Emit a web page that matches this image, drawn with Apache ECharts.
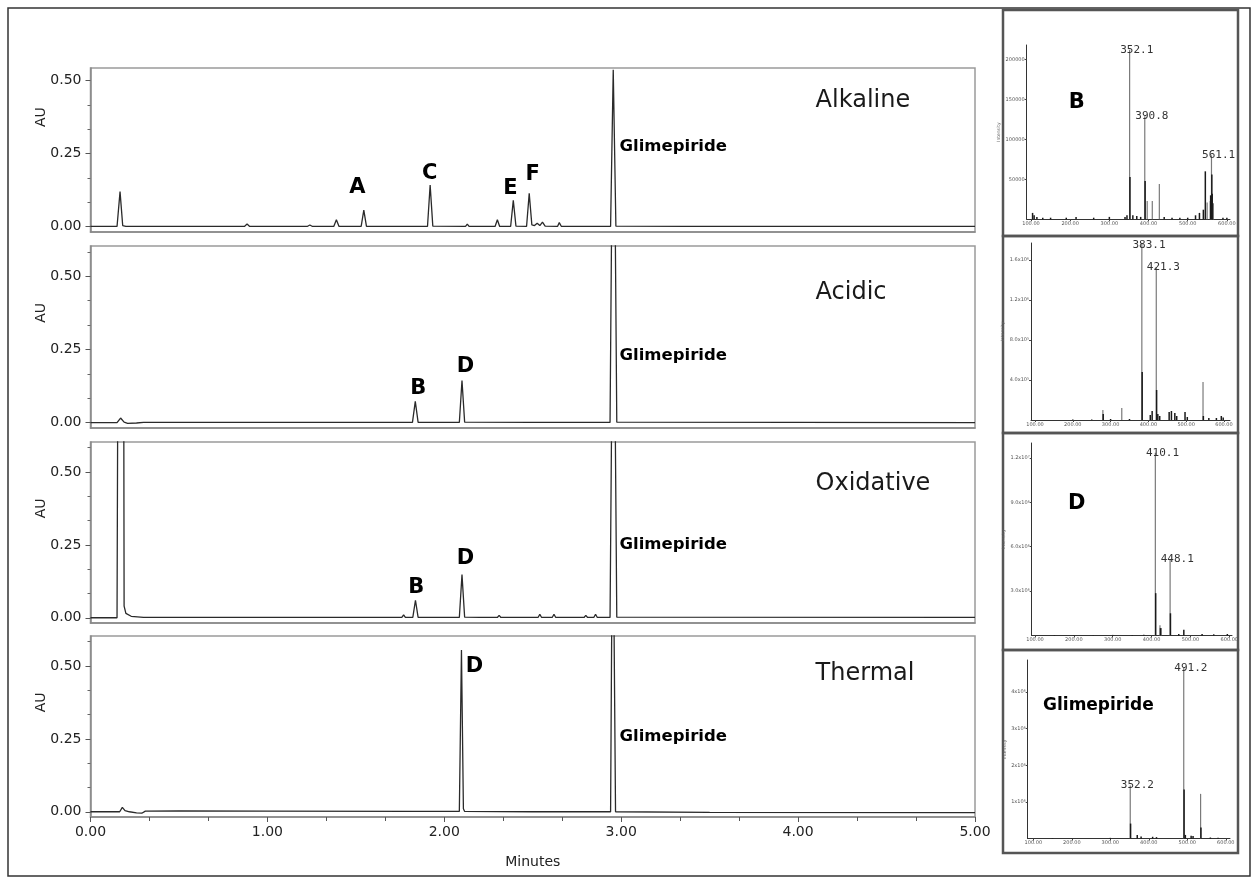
<!DOCTYPE html>
<html><head><meta charset="utf-8">
<script src="https://cdn.jsdelivr.net/npm/echarts@6/dist/echarts.min.js"></script>
<style>html,body{margin:0;padding:0;background:#fff}#c{width:1257px;height:884px}</style>
</head><body><div id="c"></div>
<script>
// ---------------- DATA ----------------
// Chromatograms: [retention time (min), absorbance (AU)]
const alkalineTrace = [
 [0,0.001],[0.15,0.001],[0.167,0.12],[0.182,0.004],[0.2,0.001],[0.87,0.001],[0.885,0.009],[0.9,0.001],
 [1.225,0.001],[1.24,0.006],[1.255,0.001],[1.375,0.001],[1.39,0.024],[1.405,0.001],[1.53,0.001],[1.545,0.057],[1.56,0.001],
 [1.905,0.001],[1.92,0.143],[1.935,0.002],[2.12,0.001],[2.13,0.009],[2.14,0.001],[2.23,0.001],[2.24,0.005],[2.25,0.001],
 [2.287,0.001],[2.30,0.024],[2.313,0.001],[2.375,0.001],[2.39,0.09],[2.405,0.002],[2.465,0.001],[2.48,0.114],[2.495,0.006],
 [2.51,0.004],[2.525,0.012],[2.54,0.004],[2.555,0.016],[2.57,0.002],[2.64,0.001],[2.65,0.014],[2.662,0.001],
 [2.94,0.001],[2.955,0.537],[2.97,0.002],[3.39,0.001],[3.40,0.005],[3.41,0.001],[4.6,0.001],[5,0.001]
];
const acidicTrace = [
 [0,0],[0.15,0],[0.17,0.016],[0.19,0.002],[0.21,-0.002],[0.26,-0.001],[0.3,0.001],[1.0,0.001],
 [1.82,0.001],[1.836,0.073],[1.852,0.001],[2.085,0.001],[2.10,0.144],[2.115,0.002],[2.5,0.001],
 [2.937,0.001],[2.95,1.0],[2.962,1.0],[2.975,0.002],[5,0]
];
const oxidativeTrace = [
 [0,0],[0.15,0],[0.158,1.5],[0.186,1.5],[0.19,0.04],[0.2,0.015],[0.23,0.005],[0.3,0.001],[1.0,0.001],
 [1.76,0.001],[1.77,0.01],[1.78,0.001],[1.822,0.001],[1.837,0.06],[1.852,0.001],[2.085,0.001],[2.10,0.148],[2.115,0.002],
 [2.2,0.001],[2.21,0.006],[2.22,0.001],[2.30,0.001],[2.31,0.008],[2.32,0.001],[2.41,0.001],[2.42,0.005],[2.43,0.001],
 [2.53,0.001],[2.54,0.012],[2.55,0.001],[2.61,0.001],[2.62,0.012],[2.63,0.001],[2.79,0.001],[2.80,0.008],[2.81,0.001],
 [2.845,0.001],[2.855,0.012],[2.865,0.001],[2.937,0.001],[2.95,1.0],[2.962,1.0],[2.975,0.002],[5,0.001]
];
const thermalTrace = [
 [0,0],[0.165,0],[0.18,0.015],[0.195,0.004],[0.22,0],[0.26,-0.004],[0.29,-0.005],[0.31,0.002],[0.5,0.003],[1.0,0.002],
 [1.82,0.001],[1.83,0.005],[1.84,0.001],[2.085,0.001],[2.097,0.555],[2.108,0.01],[2.115,0.001],[2.5,0],
 [2.94,0],[2.952,1.2],[2.968,0],[3.5,-0.002],[5,-0.003]
];
const conditionNames = ['Alkaline','Acidic','Oxidative','Thermal'];
// peak tags [time, AU, text]
const alkalinePeakTags = [[1.508,0.1325,'A'],[1.918,0.183,'C'],[2.374,0.129,'E'],[2.499,0.179,'F']];
const acidicPeakTags = [[1.853,0.116,'B'],[2.12,0.193,'D']];
const oxidativePeakTags = [[1.841,0.105,'B'],[2.119,0.202,'D']];
const thermalPeakTags = [[2.17,0.498,'D']];
const glimepirideTagAt = [[2.99,0.275],[2.99,0.228],[2.99,0.252],[2.99,0.259]];
const conditionTagAt = [[4.099,0.43],[4.099,0.445],[4.099,0.459],[4.099,0.473]];
const auTicks = [0,0.25,0.5];
const auTickLabels = ['0.00','0.25','0.50'];
const auMinorTicks = [0.0833,0.1667,0.3333,0.4167,0.5833];
const minuteTicks = [0,1,2,3,4,5];
const minuteTickLabels = ['0.00','1.00','2.00','3.00','4.00','5.00'];

// Mass spectra: [m/z, intensity]
const msB_main = [[352.1,212000],[390.8,129000],[397,23000],[410,23000],[428,44000],[550,21000],[558,23000],[561.1,80000],[566,20000]];
const msB_dark = [[352.6,53000],[391.3,48000],[545,60000],[561.6,56000],[562.6,32000],[558.6,30000],
 [104,8000],[108,5000],[115,3000],[130,2000],[150,2000],[190,2000],[215,3000],[260,2000],[300,3000],[340,3000],[345,5000],
 [360,5000],[370,4000],[380,3000],[440,3000],[460,2000],[480,2000],[500,2000],[520,5000],[530,8000],[540,12000],[590,2000],[600,2000]];
const msB_tags = [[352.1,212000,'352.1'],[390.8,129000,'390.8'],[561.1,80000,'561.1']];

const msAcid_main = [[383.1,1770000],[421.3,1530000],[545,380000],[330,120000],[280,100000]];
const msAcid_dark = [[383.6,480000],[421.8,300000],[280.5,60000],[405,50000],[410,90000],[425,60000],[430,40000],[455,80000],
 [461,90000],[470,70000],[475,40000],[497,80000],[503,30000],[545.5,40000],[560,20000],[580,20000],[593,40000],[598,25000],
 [350,10000],[300,10000],[250,5000],[200,5000]];
const msAcid_tags = [[383.1,1750000,'383.1'],[421.3,1530000,'421.3']];

const msD_main = [[410.1,12340000],[448.1,5160000],[422,700000],[425,500000]];
const msD_dark = [[410.6,2860000],[448.6,1500000],[423,500000],[483,380000],[470,100000],[530,100000],[560,80000],[595,100000],
 [380,50000],[300,40000],[200,30000],[150,30000],[350,30000],[250,20000]];
const msD_tags = [[410.1,12340000,'410.1'],[448.1,5160000,'448.1']];

const msG_main = [[352.2,1450000],[491.2,4650000],[535,1220000]];
const msG_dark = [[352.7,410000],[491.7,1340000],[535.5,300000],[370,100000],[380,60000],[410,50000],[420,40000],[510,80000],
 [515,70000],[495,100000],[560,30000],[580,20000],[300,20000],[200,10000],[150,10000]];
const msG_tags = [[352.2,1450000,'352.2'],[491.2,4650000,'491.2']];

const mzTicks = [100,200,300,400,500,600];
const mzTickLabels = ['100.00','200.00','300.00','400.00','500.00','600.00'];
const msB_yTicks = [50000,100000,150000,200000];
const msB_yTickLabels = ['50000','100000','150000','200000'];
const msAcid_yTicks = [400000,800000,1200000,1600000];
const msAcid_yTickLabels = ['4.0x10\u2075','8.0x10\u2075','1.2x10\u2076','1.6x10\u2076'];
const msD_yTicks = [3000000,6000000,9000000,12000000];
const msD_yTickLabels = ['3.0x10\u2076','6.0x10\u2076','9.0x10\u2076','1.2x10\u2077'];
const msG_yTicks = [1000000,2000000,3000000,4000000];
const msG_yTickLabels = ['1x10\u2076','2x10\u2076','3x10\u2076','4x10\u2076'];
// spectrum panel tags: [m/z, intensity, text]
const msB_name = [[216.6,145750,'B']];
const msD_name = [[207.3,8880000,'D']];
const msG_name = [[125.2,3616000,'Glimepiride']];

// ---------------- LAYOUT / STYLE ----------------
const FONT = 'DejaVu Sans';
const chromLayout = [
  {top:68, height:164, ymax:0.543},
  {top:246, height:182, ymax:0.603},
  {top:442, height:181, ymax:0.603},
  {top:636, height:181, ymax:0.603}
];
const traces = [alkalineTrace, acidicTrace, oxidativeTrace, thermalTrace];
const peakTags = [alkalinePeakTags, acidicPeakTags, oxidativePeakTags, thermalPeakTags];

const specLayout = [
  {left:1026.7, width:203.3, top:45, height:174.3, xmin:89, xmax:608, ymax:218000,
   main:msB_main, dark:msB_dark, tags:msB_tags, yt:msB_yTicks, ytl:msB_yTickLabels, name:msB_name, nameSize:21},
  {left:1031, width:199, top:243, height:177, xmin:89.4, xmax:616, ymax:1770000,
   main:msAcid_main, dark:msAcid_dark, tags:msAcid_tags, yt:msAcid_yTicks, ytl:msAcid_yTickLabels, name:[], nameSize:21},
  {left:1031.7, width:200.3, top:443, height:192.5, xmin:91.5, xmax:607, ymax:13000000,
   main:msD_main, dark:msD_dark, tags:msD_tags, yt:msD_yTicks, ytl:msD_yTickLabels, name:msD_name, nameSize:21},
  {left:1027.7, width:202.3, top:660, height:178.6, xmin:85.4, xmax:611, ymax:4870000,
   main:msG_main, dark:msG_dark, tags:msG_tags, yt:msG_yTicks, ytl:msG_yTickLabels, name:msG_name, nameSize:17}
];

const grid = [], xAxis = [], yAxis = [], series = [];
const annItem = {opacity:1, color:'transparent'};

chromLayout.forEach((L, i) => {
  grid.push({left:90.5, width:884.5, top:L.top, height:L.height, show:true, borderColor:'#9a9a9a', borderWidth:1.5, backgroundColor:'#fff'});
  const last = i === 3;
  xAxis.push({
    gridIndex:i, type:'value', min:0, max:5, interval:1,
    axisLine:{show:true, onZero:false, lineStyle:{color:'#888', width:1.5}},
    axisTick:{show:last, length:5, lineStyle:{color:'#555'}},
    minorTick:{show:last, splitNumber:3, length:4, lineStyle:{color:'#555'}},
    axisLabel:{show:last, formatter:v => minuteTickLabels[minuteTicks.indexOf(v)] || v.toFixed(2), fontSize:14, color:'#222', margin:8, fontFamily:FONT},
    splitLine:{show:false}, minorSplitLine:{show:false},
    name: last ? 'Minutes' : '', nameLocation:'middle', nameGap:38,
    nameTextStyle:{fontSize:14, color:'#222', fontFamily:FONT}
  });
  yAxis.push({
    gridIndex:i, type:'value', min:-0.018, max:L.ymax,
    axisLine:{show:true, onZero:false, lineStyle:{color:'#888', width:1.5}},
    axisTick:{show:true, customValues:auTicks, length:5, lineStyle:{color:'#555'}},
    axisLabel:{show:true, customValues:auTicks, formatter:v => auTickLabels[auTicks.indexOf(v)] || '', fontSize:14, color:'#222', margin:9, fontFamily:FONT},
    splitLine:{show:false}
  });
  yAxis.push({
    gridIndex:i, type:'value', min:-0.018, max:L.ymax, position:'left',
    axisLine:{show:false},
    axisTick:{show:true, customValues:auMinorTicks.filter(v => v < L.ymax), length:3, lineStyle:{color:'#666'}},
    axisLabel:{show:false}, splitLine:{show:false}
  });
  series.push({
    type:'line', xAxisIndex:i, yAxisIndex:2*i, data:traces[i], showSymbol:false, silent:true,
    lineStyle:{color:'#2a2a2a', width:1.3}, clip:true, animation:false
  });
  const ann = [];
  peakTags[i].forEach(t => ann.push({value:[t[0],t[1]], label:{show:true, formatter:t[2], position:'inside',
    fontSize:21, fontWeight:'bold', color:'#000', fontFamily:FONT}}));
  ann.push({value:glimepirideTagAt[i], label:{show:true, formatter:'Glimepiride', position:'right', distance:0,
    fontSize:16.5, fontWeight:'bold', color:'#000', fontFamily:FONT}});
  ann.push({value:conditionTagAt[i], label:{show:true, formatter:conditionNames[i], position:'right', distance:0,
    fontSize:24, color:'#1a1a1a', fontFamily:FONT}});
  ann.push({value:[-0.28, 0.375], label:{show:true, formatter:'AU', position:'inside', rotate:90,
    fontSize:14, color:'#222', fontFamily:FONT}});
  series.push({type:'scatter', xAxisIndex:i, yAxisIndex:2*i, symbolSize:0, clip:false, silent:true,
    itemStyle:annItem, data:ann, z:5});
});

specLayout.forEach((S, k) => {
  const gi = 4 + k;
  grid.push({left:S.left, width:S.width, top:S.top, height:S.height, show:false});
  xAxis.push({
    gridIndex:gi, type:'value', min:S.xmin, max:S.xmax,
    axisLine:{show:true, onZero:false, lineStyle:{color:'#333', width:1}},
    axisTick:{show:true, customValues:mzTicks, length:2, lineStyle:{color:'#444'}},
    axisLabel:{show:true, customValues:mzTicks, formatter:v => mzTickLabels[mzTicks.indexOf(v)] || '', fontSize:5, color:'#555', margin:2, fontFamily:FONT},
    splitLine:{show:false}
  });
  yAxis.push({
    gridIndex:gi, type:'value', min:0, max:S.ymax,
    axisLine:{show:true, onZero:false, lineStyle:{color:'#333', width:1}},
    axisTick:{show:true, customValues:S.yt, length:2, lineStyle:{color:'#444'}},
    axisLabel:{show:true, customValues:S.yt, formatter:v => S.ytl[S.yt.indexOf(v)] || '', fontSize:5, color:'#555', margin:2, fontFamily:FONT},
    splitLine:{show:false},
    name:'Intensity', nameLocation:'middle', nameGap:16, nameTextStyle:{fontSize:4.5, color:'#666', fontFamily:FONT}
  });
  const yi = 8 + k;
  series.push({type:'bar', xAxisIndex:gi, yAxisIndex:yi, data:S.main, barWidth:1.2, barGap:'-100%', silent:true,
    itemStyle:{color:'#7a7a7a'}, animation:false});
  series.push({type:'bar', xAxisIndex:gi, yAxisIndex:yi, data:S.dark, barWidth:1.5, barGap:'-100%', silent:true,
    itemStyle:{color:'#1a1a1a'}, animation:false});
  const ann = S.tags.map(t => ({value:[t[0],t[1]], label:{show:true, formatter:t[2], position:'inside', offset:[7,0],
    fontSize:11, color:'#333', fontFamily:'DejaVu Sans Mono'}}));
  S.name.forEach(t => ann.push({value:[t[0],t[1]], label:{show:true, formatter:t[2],
    position: t[2].length > 1 ? 'right' : 'inside', distance:0,
    fontSize:S.nameSize, fontWeight:'bold', color:'#000', fontFamily:FONT}}));
  series.push({type:'scatter', xAxisIndex:gi, yAxisIndex:yi, symbolSize:0, clip:false, silent:true,
    itemStyle:annItem, data:ann, z:5});
});

const boxStyle = {fill:'none', stroke:'#555', lineWidth:2.5};
const graphic = [
  {type:'rect', shape:{x:8, y:8, width:1242, height:868}, style:{fill:'none', stroke:'#333', lineWidth:1.5}, silent:true},
  {type:'rect', shape:{x:1003, y:10, width:235, height:226}, style:boxStyle, silent:true},
  {type:'rect', shape:{x:1003, y:236, width:235, height:197}, style:boxStyle, silent:true},
  {type:'rect', shape:{x:1003, y:433, width:235, height:217}, style:boxStyle, silent:true},
  {type:'rect', shape:{x:1003, y:650, width:235, height:203}, style:boxStyle, silent:true}
];

const chart = echarts.init(document.getElementById('c'), null, {renderer:'canvas'});
chart.setOption({
  backgroundColor:'#fff', animation:false,
  grid, xAxis, yAxis, series, graphic
});
</script></body></html>
